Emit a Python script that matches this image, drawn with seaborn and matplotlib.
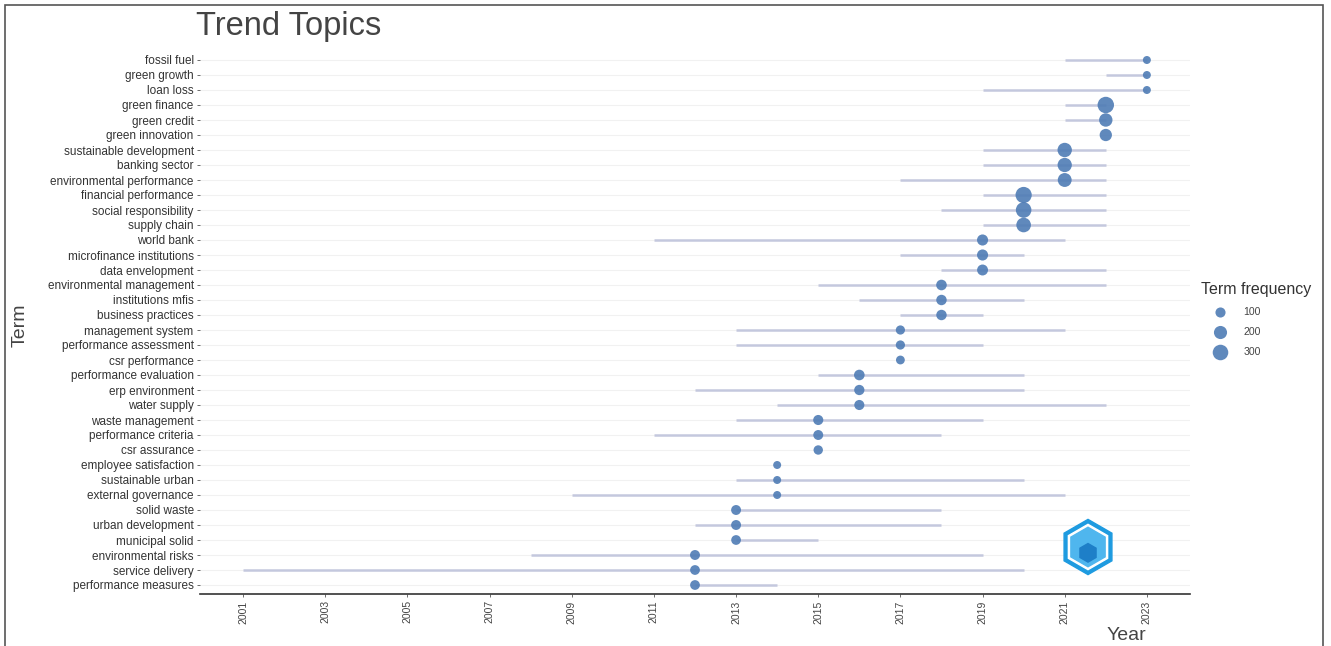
import matplotlib
matplotlib.use("Agg")
import matplotlib.pyplot as plt
from matplotlib.lines import Line2D
from matplotlib.patches import Rectangle, RegularPolygon
import seaborn as sns
import pandas as pd
import numpy as np

terms = [
    "fossil fuel", "green growth", "loan loss", "green finance", "green credit",
    "green innovation", "sustainable development", "banking sector",
    "environmental performance", "financial performance", "social responsibility",
    "supply chain", "world bank", "microfinance institutions", "data envelopment",
    "environmental management", "institutions mfis", "business practices",
    "management system", "performance assessment", "csr performance",
    "performance evaluation", "erp environment", "water supply", "waste management",
    "performance criteria", "csr assurance", "employee satisfaction",
    "sustainable urban", "external governance", "solid waste", "urban development",
    "municipal solid", "environmental risks", "service delivery",
    "performance measures",
]
year_q1 = [2021, 2022, 2019, 2021, 2021, 2022, 2019, 2019, 2017, 2019, 2018, 2019,
           2011, 2017, 2018, 2015, 2016, 2017, 2013, 2013, 2017, 2015, 2012, 2014,
           2013, 2011, 2015, 2014, 2013, 2009, 2013, 2012, 2013, 2008, 2001, 2012]
year_med = [2023, 2023, 2023, 2022, 2022, 2022, 2021, 2021, 2021, 2020, 2020, 2020,
            2019, 2019, 2019, 2018, 2018, 2018, 2017, 2017, 2017, 2016, 2016, 2016,
            2015, 2015, 2015, 2014, 2014, 2014, 2013, 2013, 2013, 2012, 2012, 2012]
year_q3 = [2023, 2023, 2023, 2022, 2022, 2022, 2022, 2022, 2022, 2022, 2022, 2022,
           2021, 2020, 2022, 2022, 2020, 2019, 2021, 2019, 2017, 2020, 2020, 2022,
           2019, 2018, 2015, 2014, 2020, 2021, 2018, 2018, 2015, 2019, 2020, 2014]
freq = [45, 40, 45, 340, 210, 170, 250, 245, 230, 330, 300, 260,
        130, 130, 125, 115, 110, 110, 75, 75, 65, 115, 105, 100,
        100, 95, 80, 40, 45, 40, 95, 95, 90, 95, 90, 90]
year_ticks = list(range(2001, 2024, 2))
legend_freqs = [100, 200, 300]

df = pd.DataFrame({"term": terms, "q1": year_q1, "med": year_med,
                   "q3": year_q3, "freq": freq})
df["pos"] = np.arange(len(df))[::-1]

font = ["Liberation Sans", "DejaVu Sans"]
sns.set_style("white")
plt.rcParams["font.family"] = font

dot_color = "#4f7cb5"
line_color = "#c4c8de"
text_color = "#444444"
size_range = (33, 140)
size_norm = (45, 340)

fig = plt.figure(figsize=(13.31, 6.46), dpi=100)
ax = fig.add_axes([200 / 1331, 1 - 594 / 646, 990 / 1331, 543 / 646])

for p in df["pos"]:
    ax.axhline(p, color="#f1f1f1", lw=0.8, zorder=0)

ax.hlines(df["pos"], df["q1"], df["q3"], color=line_color, lw=1.8, zorder=1)
sns.scatterplot(data=df, x="med", y="pos", size="freq", sizes=size_range,
                size_norm=size_norm, color=dot_color, alpha=0.9,
                edgecolor="none", legend=False, ax=ax, zorder=2)

ax.set_xlim(1999.95, 2024.05)
ax.set_ylim(-0.6, len(df) - 0.4)
ax.set_yticks(df["pos"])
ax.set_yticklabels(df["term"], fontsize=8.5, color="#333333")
ax.set_xticks(year_ticks)
ax.set_xticklabels([str(y) for y in year_ticks], rotation=90, fontsize=7.5,
                   color=text_color)
ax.tick_params(axis="both", length=2.5, width=0.6, color="#555555", pad=2,
               left=True, bottom=True)
ax.set_xlabel("")
ax.set_ylabel("")
for side in ["left", "right", "top"]:
    ax.spines[side].set_visible(False)
ax.spines["bottom"].set_color("#333333")
ax.spines["bottom"].set_linewidth(1.2)

fig.text(196 / 1331, 1 - 27 / 646, "Trend Topics", fontsize=23.5, color=text_color,
         ha="left", va="center")
fig.text(20 / 1331, 1 - 325 / 646, "Term", fontsize=14, color=text_color,
         rotation=90, ha="center", va="center")
fig.text(1146 / 1331, 1 - 636 / 646, "Year", fontsize=14, color=text_color,
         ha="right", va="center")

# legend for term frequency
def area(v):
    return size_range[0] + (v - size_norm[0]) / (size_norm[1] - size_norm[0]) * (size_range[1] - size_range[0])

handles = [Line2D([], [], marker="o", ls="", color=dot_color, alpha=0.9,
                  markersize=np.sqrt(area(v)), markeredgewidth=0)
           for v in legend_freqs]
leg = fig.legend(handles, [str(v) for v in legend_freqs], title="Term frequency",
                 loc="upper left", bbox_to_anchor=(1194 / 1331, 1 - 275 / 646),
                 frameon=False, fontsize=7.6, title_fontsize=11.5,
                 labelspacing=0.95, handlelength=3.6, handletextpad=0.4,
                 borderpad=0.2)
leg._legend_box.align = "left"
for t in leg.get_texts():
    t.set_color(text_color)
leg.get_title().set_color("#333333")

# small hexagon badge in the lower right
hx, hy = 1088 / 1331, 1 - 547 / 646
badge = fig.add_axes([hx - 0.025, hy - 0.045, 0.05, 0.09])
badge.set_xlim(-1, 1)
badge.set_ylim(-1, 1)
badge.set_aspect("equal")
badge.axis("off")
badge.add_patch(RegularPolygon((0, 0), 6, radius=0.95, color="#1e9be0"))
badge.add_patch(RegularPolygon((0, 0), 6, radius=0.78, color="#ffffff"))
badge.add_patch(RegularPolygon((0, 0), 6, radius=0.68, color="#4fb6ee"))
badge.add_patch(RegularPolygon((0, -0.2), 6, radius=0.32, color="#1e7fc8"))

fig.patches.append(Rectangle((5 / 1331, -0.01), 1318 / 1331, 1 - 5 / 646 + 0.01,
                             transform=fig.transFigure, fill=False,
                             edgecolor="#555555", lw=1.2))

fig.savefig("out.png", dpi=100)
